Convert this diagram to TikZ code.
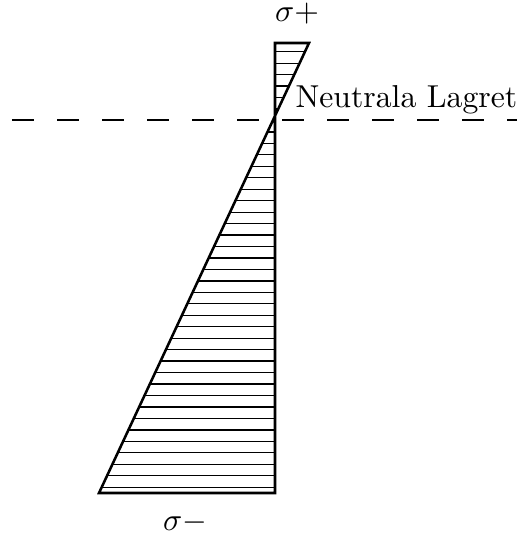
\documentclass[tikz,border=0pt]{standalone}
\begin{document}
\begin{tikzpicture}[x=0.3155pt,y=-0.3155pt,
  main/.style={line width=0.8pt, line join=miter},
  hatchline/.style={line width=0.4pt},
  axisline/.style={line width=0.4pt, dash pattern=on 6.85pt off 7.35pt}]
\useasboundingbox (0,0) rectangle (517,535);
\coordinate (tl) at (275,43);
\coordinate (tr) at (309,43);
\coordinate (bl) at (99,493);
\coordinate (br) at (275,493);
\coordinate (al) at (12,120);
\coordinate (ar) at (517,120);
\foreach \i in {0,...,38} {
  \pgfmathsetmacro\yy{51.7+11.46*\i}
  \pgfmathsetmacro\xx{309-(\yy-43)/450*210}
  \draw[hatchline] (\xx,\yy) -- (275,\yy);
}
\draw[axisline] (al) -- (ar);
\draw[main] (tl) -- (tr) -- (bl) -- (br) -- cycle;
\node (sp) at (297,14) {$\sigma+$};
\node (sm) at (185,523) {$\sigma-$};
\node[anchor=base west, inner sep=0pt] (nl) at (295,107) {Neutrala Lagret};
\end{tikzpicture}
\end{document}
